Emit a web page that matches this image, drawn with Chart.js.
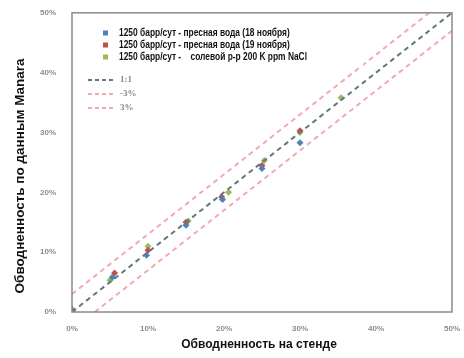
<!DOCTYPE html>
<html lang="ru">
<head>
<meta charset="UTF-8">
<title>Обводненность</title>
<style>
    body { margin: 0; background: #fff; }
    #wrap { width: 464px; height: 358px; }
</style>
</head>
<body>
<div id="wrap"><canvas id="wc" width="464" height="358"></canvas></div>
<script src="https://cdn.jsdelivr.net/npm/chart.js"></script>
<script>
    // values, in %
    const seriesNames = [
        '1250 барр/сут - пресная вода (18 ноября)',
        '1250 барр/сут - пресная вода (19 ноября)',
        '1250 барр/сут -    солевой р-р 200 K ppm NaCl'
    ];
    const blueX = [0, 5.3, 9.8, 15.0, 19.8, 25.0, 30.0];
    const blueY = [0, 5.8, 9.5, 14.5, 18.8, 24.0, 28.3];
    const redX = [0, 5.6, 10.0, 15.0, 19.7, 25.0, 30.0];
    const redY = [0.3, 6.5, 10.3, 15.0, 19.2, 24.5, 30.3];
    const greenX = [0, 5.0, 10.0, 15.3, 20.6, 25.3, 30.0, 35.4];
    const greenY = [0.5, 5.3, 11.0, 15.2, 20.0, 25.3, 30.0, 35.8];

    const lineNames = ['1:1', '-3%', '3%'];
    const oneX = [0, 50], oneY = [0, 50];
    const minusX = [3, 50], minusY = [0, 47];
    const plusX = [0, 47], plusY = [3, 50];

    const tickLabels = ['0%', '10%', '20%', '30%', '40%', '50%'];
    const xTitle = 'Обводненность на стенде';
    const yTitle = 'Обводненность по данным Manara';

    const pts = (xs, ys) => xs.map((x, i) => ({ x: x, y: ys[i] }));

    const sans = '"Liberation Sans", Arial, sans-serif';

    const markerColors = ['#4f81bd', '#c0504d', '#9bbb59'];
    const lineColors = ['#5f7880', '#f3a8b6', '#f3a8b6'];

    // frame, axis titles and the legend inside the plot
    const extras = {
        id: 'extras',
        afterDraw(chart) {
            const c = chart.ctx;
            const a = chart.chartArea;
            c.save();
            c.strokeStyle = '#8a8a8a';
            c.lineWidth = 1.5;
            c.strokeRect(a.left, a.top, a.right - a.left, a.bottom - a.top);

            // axis titles
            c.fillStyle = '#111';
            c.textAlign = 'center';
            c.textBaseline = 'middle';
            c.font = 'bold 12px ' + sans;
            c.fillText(xTitle, 259, 345);
            c.save();
            c.translate(20, 176);
            c.rotate(-Math.PI / 2);
            c.font = 'bold 13.5px ' + sans;
            c.fillText(yTitle, 0, 0);
            c.restore();

            // legend
            c.textAlign = 'left';
            c.fillStyle = '#fff';
            c.fillRect(95, 24, 268, 42);
            c.font = 'bold 10.5px ' + sans;
            seriesNames.forEach((name, i) => {
                const y = 33 + i * 12;
                c.fillStyle = markerColors[i];
                c.fillRect(103, y - 2.5, 5, 5);
                c.save();
                c.translate(119, y);
                c.scale(0.8, 1);
                c.fillStyle = '#111';
                c.fillText(name, 0, 0);
                c.restore();
            });
            c.font = 'bold 9px "Liberation Serif", serif';
            lineNames.forEach((name, i) => {
                const y = 80 + i * 14;
                c.strokeStyle = lineColors[i];
                c.lineWidth = 2;
                c.setLineDash([4, 3]);
                c.beginPath();
                c.moveTo(88, y);
                c.lineTo(115, y);
                c.stroke();
                c.setLineDash([]);
                c.fillStyle = '#888';
                c.fillText(name, 120, y);
            });
            c.restore();
        }
    };

    const scatterSet = (label, data, color) => ({
        type: 'scatter',
        label: label,
        data: data,
        backgroundColor: color,
        borderColor: color,
        pointStyle: 'rectRot',
        pointRadius: 3.5,
        borderWidth: 0
    });

    const lineSet = (label, data, color) => ({
        type: 'line',
        label: label,
        data: data,
        borderColor: color,
        borderWidth: 2,
        borderDash: [5, 4],
        pointRadius: 0,
        fill: false
    });

    const tickFont = { family: sans, size: 8, weight: 'bold' };

    new Chart(document.getElementById('wc'), {
        type: 'scatter',
        data: {
            datasets: [
                lineSet(lineNames[1], pts(minusX, minusY), lineColors[1]),
                lineSet(lineNames[2], pts(plusX, plusY), lineColors[2]),
                lineSet(lineNames[0], pts(oneX, oneY), lineColors[0]),
                scatterSet(seriesNames[0], pts(blueX, blueY), markerColors[0]),
                scatterSet(seriesNames[1], pts(redX, redY), markerColors[1]),
                scatterSet(seriesNames[2], pts(greenX, greenY), markerColors[2])
            ]
        },
        options: {
            responsive: false,
            animation: false,
            layout: { padding: { left: 0, right: -5, top: 6, bottom: 0 } },
            plugins: {
                legend: { display: false },
                tooltip: { enabled: false }
            },
            scales: {
                x: {
                    type: 'linear',
                    min: 0, max: 50,
                    grid: { display: false },
                    border: { display: false },
                    afterFit(s) { s.height = 46; },
                    afterBuildTicks(s) { s.ticks = tickLabels.map((t, i) => ({ value: i * 10 })); },
                    ticks: {
                        padding: 4,
                        color: '#8c8c8c',
                        font: tickFont,
                        callback: (v) => tickLabels[v / 10]
                    }
                },
                y: {
                    type: 'linear',
                    min: 0, max: 50,
                    grid: { display: false },
                    border: { display: false },
                    afterFit(s) { s.width = 72; },
                    afterBuildTicks(s) { s.ticks = tickLabels.map((t, i) => ({ value: i * 10 })); },
                    ticks: {
                        padding: 8,
                        color: '#8c8c8c',
                        font: tickFont,
                        callback: (v) => tickLabels[v / 10]
                    }
                }
            }
        },
        plugins: [extras]
    });
</script>
</body>
</html>
